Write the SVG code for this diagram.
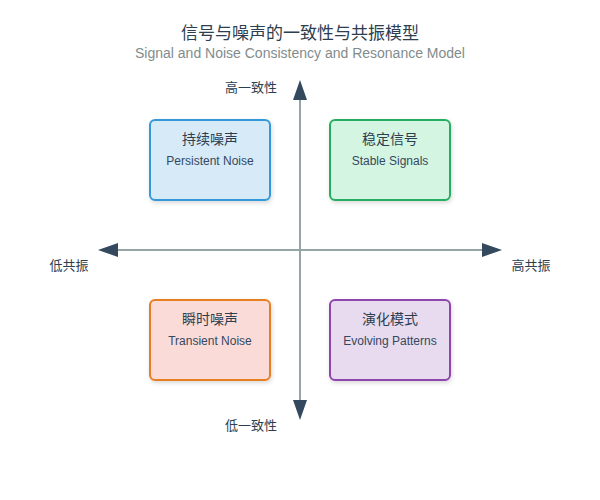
<svg xmlns="http://www.w3.org/2000/svg" width="600" height="500" viewBox="0 0 600 500">
<defs>
<marker id="arrow" markerWidth="10" markerHeight="7" refX="0" refY="3.5" orient="auto-start-reverse" markerUnits="strokeWidth">
<polygon points="0 0, 10 3.5, 0 7" fill="#34495e"/>
</marker>
<filter id="shadow" x="-10%" y="-10%" width="130%" height="130%">
<feDropShadow dx="1" dy="2" stdDeviation="2" flood-color="#000" flood-opacity="0.15"/>
</filter>
<style>
.title{font-family:"Liberation Sans","Noto Sans CJK SC",sans-serif;font-size:17px;fill:#2c3e50;text-anchor:middle}
.subtitle{font-family:"Liberation Sans","Noto Sans CJK SC",sans-serif;font-size:14px;fill:#7f8c8d;text-anchor:middle}
.axis{stroke:#95a5a6;stroke-width:2;fill:none}
.alabel{font-family:"Liberation Sans","Noto Sans CJK SC",sans-serif;font-size:13px;fill:#2c3e50;text-anchor:middle}
.box{stroke-width:2;filter:url(#shadow)}
.zh{font-family:"Liberation Sans","Noto Sans CJK SC",sans-serif;font-size:14px;fill:#2c3e50;text-anchor:middle}
.en{font-family:"Liberation Sans","Noto Sans CJK SC",sans-serif;font-size:12px;fill:#34495e;text-anchor:middle}
</style>
</defs>
<rect width="600" height="500" fill="#ffffff"/>
<text class="title" x="300" y="39">信号与噪声的一致性与共振模型</text>
<text class="subtitle" x="300" y="58">Signal and Noise Consistency and Resonance Model</text>
<g id="axes">
<line class="axis" x1="300" y1="100" x2="300" y2="400" marker-start="url(#arrow)" marker-end="url(#arrow)"/>
<line class="axis" x1="118" y1="250" x2="482" y2="250" marker-start="url(#arrow)" marker-end="url(#arrow)"/>
</g>
<text class="alabel" x="251" y="92">高一致性</text>
<text class="alabel" x="251" y="430">低一致性</text>
<text class="alabel" x="69" y="270">低共振</text>
<text class="alabel" x="531" y="270">高共振</text>
<g id="persistent-noise">
<rect class="box" x="150" y="120" width="120" height="80" rx="5" fill="#d6eaf8" stroke="#3498db"/>
<text class="zh" x="210" y="144">持续噪声</text>
<text class="en" x="210" y="165">Persistent Noise</text>
</g>
<g id="stable-signals">
<rect class="box" x="330" y="120" width="120" height="80" rx="5" fill="#d5f5e3" stroke="#27ae60"/>
<text class="zh" x="390" y="144">稳定信号</text>
<text class="en" x="390" y="165">Stable Signals</text>
</g>
<g id="transient-noise">
<rect class="box" x="150" y="300" width="120" height="80" rx="5" fill="#fadbd8" stroke="#e67e22"/>
<text class="zh" x="210" y="324">瞬时噪声</text>
<text class="en" x="210" y="345">Transient Noise</text>
</g>
<g id="evolving-patterns">
<rect class="box" x="330" y="300" width="120" height="80" rx="5" fill="#e8daef" stroke="#8e44ad"/>
<text class="zh" x="390" y="324">演化模式</text>
<text class="en" x="390" y="345">Evolving Patterns</text>
</g>
</svg>
